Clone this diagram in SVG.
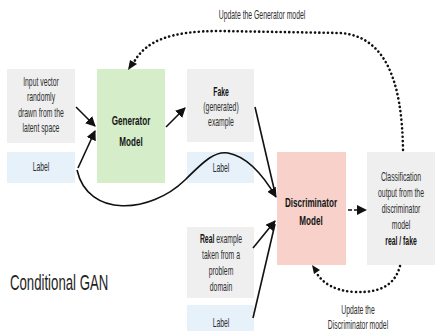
<svg xmlns="http://www.w3.org/2000/svg" width="436" height="331" viewBox="0 0 436 331">
<style>
.gray{fill:#efefef}
.blue{fill:#e7f1fa}
.green{fill:#d5eec9}
.pink{fill:#f8d2ca}
.t{font-family:"Liberation Sans",Arial,sans-serif;font-size:12px;fill:#2e2e2e;text-anchor:middle}
.b{font-family:"Liberation Sans",Arial,sans-serif;font-weight:bold;font-size:13.5px;fill:#141414;text-anchor:middle}
.bs{font-weight:bold;fill:#141414}
.title{font-family:"Liberation Sans",Arial,sans-serif;font-size:22px;fill:#1e1e1e}
.ln{fill:none;stroke:#111;stroke-width:1.6}
.dot{fill:none;stroke:#111;stroke-width:2.6;stroke-dasharray:0.1 4.2;stroke-linecap:round}
</style>
<defs>
<marker id="ah" viewBox="0 0 10 10" refX="9" refY="5" markerWidth="10" markerHeight="10" markerUnits="userSpaceOnUse" orient="auto">
<path d="M0,0 L10,5 L0,10 z" fill="#111"/>
</marker>
</defs>

<g id="input">
<rect class="gray" x="7" y="69" width="68" height="74"/>
<text class="t" transform="translate(41,86) scale(0.57,1)">Input vector</text>
<text class="t" transform="translate(41,101) scale(0.57,1)">randomly</text>
<text class="t" transform="translate(41,117) scale(0.57,1)">drawn from the</text>
<text class="t" transform="translate(41,132) scale(0.57,1)">latent space</text>
</g>
<g id="label1">
<rect class="blue" x="7" y="152" width="68" height="31"/>
<text class="t" transform="translate(41,171) scale(0.57,1)">Label</text>
</g>
<g id="generator">
<rect class="green" x="97" y="69" width="68" height="114"/>
<text class="b" transform="translate(131,125) scale(0.6,1)">Generator</text>
<text class="b" transform="translate(131,146) scale(0.6,1)">Model</text>
</g>
<g id="fake">
<rect class="gray" x="187" y="69" width="67" height="73"/>
<text class="t bs" transform="translate(221,96) scale(0.57,1)">Fake</text>
<text class="t" transform="translate(221,111) scale(0.57,1)">(generated)</text>
<text class="t" transform="translate(221,126) scale(0.57,1)">example</text>
</g>
<g id="label2">
<rect class="blue" x="187" y="152" width="67" height="31"/>
<text class="t" transform="translate(221,172) scale(0.57,1)">Label</text>
</g>
<g id="discriminator">
<rect class="pink" x="277" y="152" width="69" height="113"/>
<text class="b" transform="translate(311,207) scale(0.6,1)">Discriminator</text>
<text class="b" transform="translate(311,225) scale(0.6,1)">Model</text>
</g>
<g id="classification">
<rect class="gray" x="367" y="152" width="68" height="113"/>
<text class="t" transform="translate(401,181) scale(0.57,1)">Classification</text>
<text class="t" transform="translate(401,197) scale(0.57,1)">output from the</text>
<text class="t" transform="translate(401,213) scale(0.57,1)">discriminator</text>
<text class="t" transform="translate(401,229) scale(0.57,1)">model</text>
<text class="t bs" transform="translate(401,245) scale(0.57,1)">real / fake</text>
</g>
<g id="real">
<rect class="gray" x="187" y="227" width="67" height="71"/>
<text class="t" transform="translate(221,243) scale(0.57,1)"><tspan class="bs">Real</tspan> example</text>
<text class="t" transform="translate(221,259) scale(0.57,1)">taken from a</text>
<text class="t" transform="translate(221,275) scale(0.57,1)">problem</text>
<text class="t" transform="translate(221,291) scale(0.57,1)">domain</text>
</g>
<g id="label3">
<rect class="blue" x="187" y="305" width="67" height="30"/>
<text class="t" transform="translate(221,327) scale(0.57,1)">Label</text>
</g>
<g id="title">
<text class="title" transform="translate(10,290) scale(0.6,1)">Conditional GAN</text>
</g>
<g id="update-labels">
<text class="t" transform="translate(262,19) scale(0.57,1)">Update the Generator model</text>
<text class="t" transform="translate(358,314) scale(0.57,1)">Update the</text>
<text class="t" transform="translate(358,329) scale(0.57,1)">Discriminator model</text>
</g>

<g id="connectors">
<path class="ln" d="M76,107 L95,126" marker-end="url(#ah)"/>
<path class="ln" d="M78,168 L95,131" marker-end="url(#ah)"/>
<path class="ln" d="M166,127 L185,108" marker-end="url(#ah)"/>
<path class="ln" d="M77,170 C88,218 150,214 185,180 C205,160 215,151 228,153 C250,157 266,180 276,197" marker-end="url(#ah)"/>
<path class="ln" d="M255,107 L275,193"/>
<path class="ln" d="M253,248 L275,221" marker-end="url(#ah)"/>
<path class="ln" d="M253,318 L275,224"/>
<path class="ln" d="M348,210 L366,210" stroke-dasharray="4 2" marker-end="url(#ah)"/>
<path class="dot" d="M403,150 C402,80 385,36 340,33 L220,31 C172,31 145,40 133,64"/>
<path d="M128,70 L130,60 L137,64 z" fill="#111"/>
<path class="dot" d="M400,266 C395,285 380,293 355,292 C335,291 322,283 316,272"/>
<path d="M312,265 L320,270 L314,274 z" fill="#111"/>
</g>
</svg>
